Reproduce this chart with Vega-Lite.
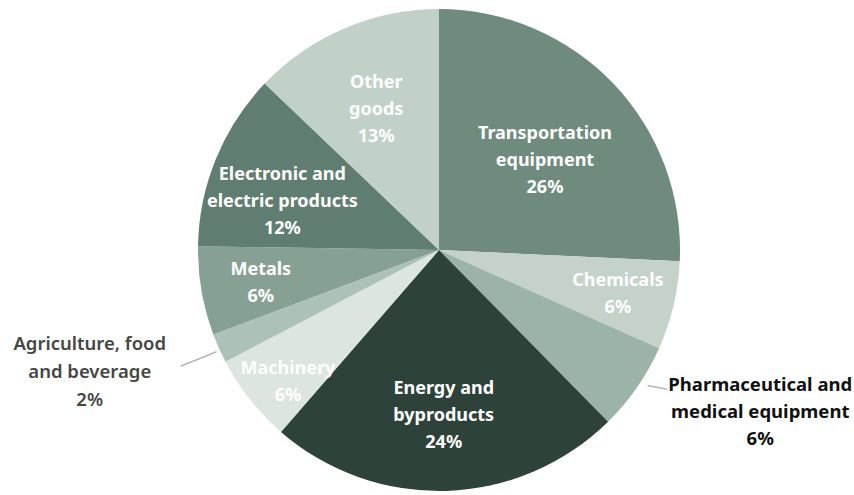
{
  "$schema": "https://vega.github.io/schema/vega-lite/v6.json",
  "width": 830,
  "height": 490,
  "padding": {"left": 24, "top": 5, "right": 0, "bottom": 0},
  "autosize": "none",
  "background": "#ffffff",
  "config": {"view": {"stroke": null}, "text": {"lineBreak": "\n", "font": "Noto Sans", "fontWeight": "bold", "fontSize": 18, "lineHeight": 27, "fill": "#ffffff", "align": "center", "baseline": "middle"}},
  "data": {
    "values": [
      {"category": "Transportation equipment", "value": 26, "order": 1, "label": "Transportation\nequipment\n26%"},
      {"category": "Chemicals", "value": 6, "order": 2, "label": "Chemicals\n6%"},
      {"category": "Pharmaceutical and medical equipment", "value": 6, "order": 3, "label": "Pharmaceutical and\nmedical equipment\n6%"},
      {"category": "Energy and byproducts", "value": 24, "order": 4, "label": "Energy and\nbyproducts\n24%"},
      {"category": "Machinery", "value": 6, "order": 5, "label": "Machinery\n6%"},
      {"category": "Agriculture, food and beverage", "value": 2, "order": 6, "label": "Agriculture, food\nand beverage\n2%"},
      {"category": "Metals", "value": 6, "order": 7, "label": "Metals\n6%"},
      {"category": "Electronic and electric products", "value": 12, "order": 8, "label": "Electronic and\nelectric products\n12%"},
      {"category": "Other goods", "value": 13, "order": 9, "label": "Other\ngoods\n13%"}
    ]
  },
  "encoding": {
    "theta": {"field": "value", "type": "quantitative", "stack": true},
    "order": {"field": "order", "type": "quantitative", "sort": "ascending"}
  },
  "layer": [
    {
      "mark": {"type": "arc", "radius": 241, "stroke": null},
      "encoding": {
        "color": {
          "field": "category",
          "type": "nominal",
          "legend": null,
          "scale": {
            "domain": ["Transportation equipment", "Chemicals", "Pharmaceutical and medical equipment", "Energy and byproducts", "Machinery", "Agriculture, food and beverage", "Metals", "Electronic and electric products", "Other goods"],
            "range": ["#6e8b7e", "#c4d2ca", "#9cb4a7", "#2d4239", "#dce5e0", "#adc2b6", "#86a193", "#5f7d70", "#c1d1c8"]
          }
        }
      }
    },
    {
      "mark": {"type": "text", "radius": 152, "dx": -4, "dy": -11},
      "encoding": {"text": {"condition": {"test": "datum.category == 'Transportation equipment'", "field": "label"}, "value": ""}}
    },
    {
      "mark": {"type": "text", "radius": 152, "dx": 0, "dy": -13},
      "encoding": {"text": {"condition": {"test": "datum.category == 'Energy and byproducts'", "field": "label"}, "value": ""}}
    },
    {
      "mark": {"type": "text", "radius": 152, "dx": -16, "dy": -17},
      "encoding": {"text": {"condition": {"test": "datum.category == 'Electronic and electric products'", "field": "label"}, "value": ""}}
    },
    {
      "mark": {"type": "text", "radius": 152, "dx": -3, "dy": -27},
      "encoding": {"text": {"condition": {"test": "datum.category == 'Other goods'", "field": "label"}, "value": ""}}
    },
    {
      "mark": {"type": "text", "radius": 190, "dx": 9, "dy": -12},
      "encoding": {"text": {"condition": {"test": "datum.category == 'Metals'", "field": "label"}, "value": ""}}
    },
    {
      "mark": {"type": "text", "radius": 190, "dx": -2, "dy": 1},
      "encoding": {"text": {"condition": {"test": "datum.category == 'Machinery'", "field": "label"}, "value": ""}}
    },
    {
      "mark": {"type": "text", "radius": 190, "dx": -6, "dy": -13},
      "encoding": {"text": {"condition": {"test": "datum.category == 'Chemicals'", "field": "label"}, "value": ""}}
    },
    {
      "mark": {"type": "text", "radius": 262, "dx": -110, "dy": -13, "fontWeight": 600, "fontSize": 18.5, "lineHeight": 28, "fill": "#454545"},
      "encoding": {"text": {"condition": {"test": "datum.category == 'Agriculture, food and beverage'", "field": "label"}, "value": ""}}
    },
    {
      "mark": {"type": "text", "radius": 262, "dx": 106, "dy": -14, "fontSize": 18.5, "fill": "#111111"},
      "encoding": {"text": {"condition": {"test": "datum.category == 'Pharmaceutical and medical equipment'", "field": "label"}, "value": ""}}
    },
    {
      "mark": {"type": "text", "radius": 265, "dx": 1, "dy": 2, "angle": -22, "font": "DejaVu Sans", "fontWeight": "normal", "fontSize": 16, "fill": "#b0b0b0"},
      "encoding": {"text": {"condition": {"test": "datum.category == 'Agriculture, food and beverage'", "value": "────"}, "value": ""}}
    },
    {
      "mark": {"type": "text", "radius": 255, "dx": 7, "dy": -9, "angle": 11, "font": "DejaVu Sans", "fontWeight": "normal", "fontSize": 16, "fill": "#b0b0b0"},
      "encoding": {"text": {"condition": {"test": "datum.category == 'Pharmaceutical and medical equipment'", "value": "──"}, "value": ""}}
    }
  ]
}
